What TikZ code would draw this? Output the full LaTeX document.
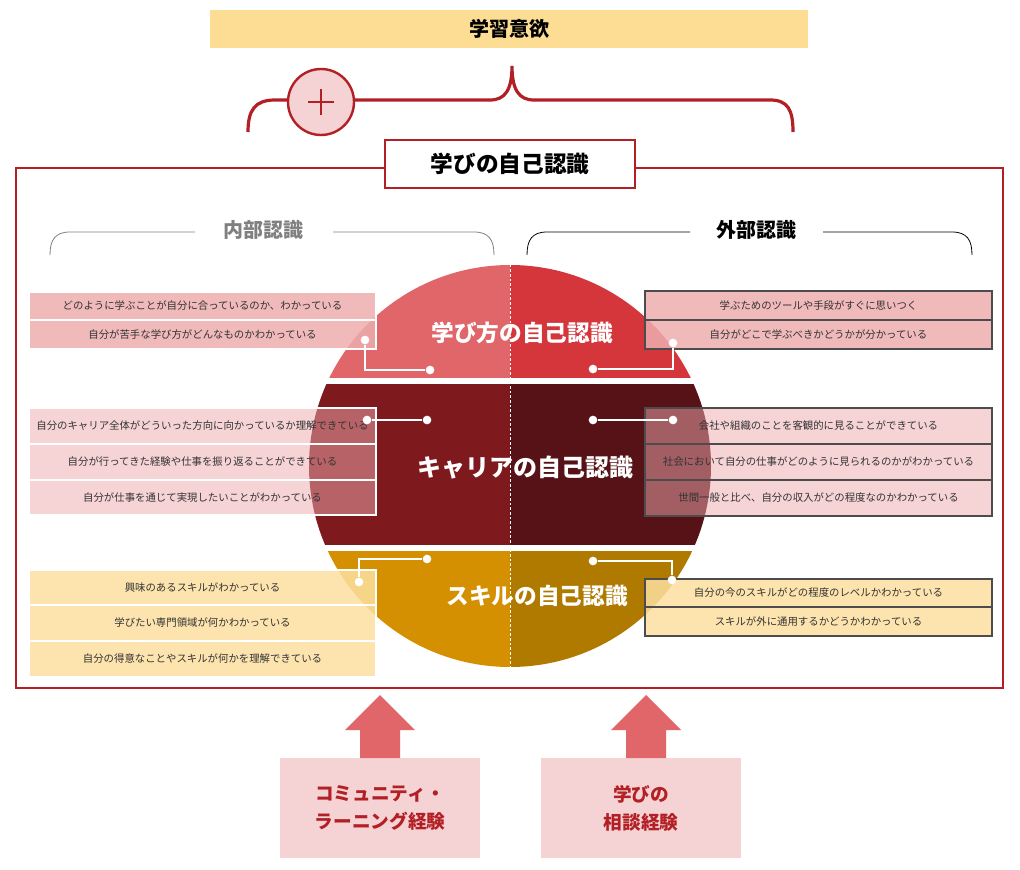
\documentclass[tikz,border=0pt]{standalone}
\usepackage{fontspec}
\setmainfont{Noto Sans CJK JP}
\usetikzlibrary{calc}
\definecolor{dred}{HTML}{B22025}
\definecolor{ylw}{HTML}{FDDC93}
\definecolor{tl}{HTML}{E0666A}
\definecolor{tr}{HTML}{D4363C}
\definecolor{ml}{HTML}{7E1A1E}
\definecolor{mr}{HTML}{561217}
\definecolor{bl}{HTML}{D49000}
\definecolor{br}{HTML}{B07A00}
\definecolor{pink}{HTML}{EEADAE}
\definecolor{lpink}{HTML}{EFABAF}
\definecolor{lylw}{HTML}{FDE0A0}
\definecolor{bpink}{HTML}{F5D3D5}
\tikzset{
 x=0.75pt,y=-0.75pt,
 lbox/.style={draw=white,line width=0.8pt,fill opacity=0.85,text opacity=1,minimum width=347*0.75pt,inner sep=0pt,font=\fontsize{7.8}{9}\selectfont,text=black!80},
 rbox/.style={draw=black!70,line width=0.8pt,fill opacity=0.85,text opacity=1,minimum width=347*0.75pt,inner sep=0pt,font=\fontsize{7.8}{9}\selectfont,text=black!80},
 mid/.style={fill=lpink,fill opacity=0.5},
 dot/.style={circle,fill=white,inner sep=0pt,minimum size=6.5pt},
 conn/.style={white,line width=1pt},
 ctitle/.style={text=white,font=\bfseries\fontsize{17}{20}\selectfont},
 hdr/.style={font=\bfseries\fontsize{15}{18}\selectfont},
 upar/.style={fill=tl,draw=none},
 bbox/.style={fill=bpink,minimum width=150pt,minimum height=75pt,align=center,text=dred,font=\bfseries\fontsize{14}{21}\selectfont},
}
\begin{document}
\begin{tikzpicture}
\useasboundingbox (0,0) rectangle (1020,870);
\fill[white] (0,0) rectangle (1020,870);
% top
\node[fill=ylw,minimum width=598*0.75pt,minimum height=38*0.75pt,font=\bfseries\fontsize{15}{18}\selectfont] (goal) at (509,29) {学習意欲};
\draw[dred,line width=2.4pt] (248,132) .. controls (248,110) and (255,100) .. (275,100) -- (490,100) .. controls (505,100) and (512,90) .. (512,66) .. controls (512,90) and (519,100) .. (534,100) -- (770,100) .. controls (788,100) and (793,110) .. (793,132);
\node[circle,draw=dred,line width=1.8pt,fill=bpink,minimum size=66*0.75pt,inner sep=0pt] (plus) at (321,102) {};
\draw[dred,line width=2pt] ($(plus.center)+(-13,0)$) -- ($(plus.center)+(13,0)$);
\draw[dred,line width=2pt] ($(plus.center)+(0,-13)$) -- ($(plus.center)+(0,13)$);
% frame
\draw[dred,line width=2.2pt] (16,168) rectangle (1003,688);
\node[draw=dred,line width=2.2pt,fill=white,minimum width=250*0.75pt,minimum height=48*0.75pt,font=\bfseries\fontsize{17}{20}\selectfont] (title) at (510,164) {学びの自己認識};
% headers
\draw[black!50,line width=0.6pt] (50,255) .. controls (50,240) and (55,232) .. (70,232) -- (195,232);
\draw[black!50,line width=0.6pt] (333,232) -- (474,232) .. controls (489,232) and (494,240) .. (494,255);
\node[hdr,text=black!50] (inner) at (263,230) {内部認識};
\draw[black,line width=0.6pt] (527,255) .. controls (527,240) and (532,232) .. (547,232) -- (690,232);
\draw[black,line width=0.6pt] (823,232) -- (952,232) .. controls (967,232) and (972,240) .. (972,255);
\node[hdr] (outer) at (756,230) {外部認識};
% circle
\begin{scope}
\clip (510,466) circle (201);
\fill[tl] (300,260) rectangle (510,378);
\fill[tr] (510,260) rectangle (720,378);
\fill[ml] (300,384) rectangle (510,545);
\fill[mr] (510,384) rectangle (720,545);
\fill[bl] (300,551) rectangle (510,680);
\fill[br] (510,551) rectangle (720,680);
\draw[white,line width=0.6pt,dash pattern=on 2pt off 1.5pt] (510,260) -- (510,680);
\end{scope}
% left boxes
\node[lbox,fill=pink,minimum height=28*0.75pt] (l1) at (202.5,306) {どのように学ぶことが自分に合っているのか、わかっている};
\node[lbox,fill=pink,minimum height=29*0.75pt] (l2) at (202.5,334.5) {自分が苦手な学び方がどんなものかわかっている};
\node[lbox,mid,minimum height=36*0.75pt] (l3) at (202.5,426) {自分のキャリア全体がどういった方向に向かっているか理解できている};
\node[lbox,mid,minimum height=36*0.75pt] (l4) at (202.5,462) {自分が行ってきた経験や仕事を振り返ることができている};
\node[lbox,mid,minimum height=35*0.75pt] (l5) at (202.5,497.5) {自分が仕事を通じて実現したいことがわかっている};
\node[lbox,fill=lylw,minimum height=35*0.75pt] (l6) at (202.5,587.5) {興味のあるスキルがわかっている};
\node[lbox,fill=lylw,minimum height=36*0.75pt] (l7) at (202.5,623) {学びたい専門領域が何かわかっている};
\node[lbox,fill=lylw,minimum height=36*0.75pt] (l8) at (202.5,659) {自分の得意なことやスキルが何かを理解できている};
% right boxes
\node[rbox,fill=pink,minimum height=29*0.75pt] (r1) at (818.5,305.5) {学ぶためのツールや手段がすぐに思いつく};
\node[rbox,fill=pink,minimum height=29*0.75pt] (r2) at (818.5,334.5) {自分がどこで学ぶべきかどうかが分かっている};
\node[rbox,mid,minimum height=36*0.75pt] (r3) at (818.5,426) {会社や組織のことを客観的に見ることができている};
\node[rbox,mid,minimum height=36*0.75pt] (r4) at (818.5,462) {社会において自分の仕事がどのように見られるのかがわかっている};
\node[rbox,mid,minimum height=36*0.75pt] (r5) at (818.5,498) {世間一般と比べ、自分の収入がどの程度なのかわかっている};
\node[rbox,fill=lylw,minimum height=28*0.75pt] (r6) at (818.5,593) {自分の今のスキルがどの程度のレベルかわかっている};
\node[rbox,fill=lylw,minimum height=29*0.75pt] (r7) at (818.5,621.5) {スキルが外に通用するかどうかわかっている};
% circle titles
\node[ctitle] (t1) at (522,333) {学び方の自己認識};
\node[ctitle,font=\bfseries\fontsize{18}{20}\selectfont] (t2) at (525,468) {キャリアの自己認識};
\node[ctitle] (t3) at (537,596) {スキルの自己認識};
% connectors
\node[dot] (a1) at (365,340) {}; \node[dot] (a2) at (430,370) {};
\draw[conn] (a1) |- (a2);
\node[dot] (b1) at (367,420) {}; \node[dot] (b2) at (427,420) {};
\draw[conn] (b1) -- (b2);
\node[dot] (c1) at (359,582) {}; \node[dot] (c2) at (427,559) {};
\draw[conn] (c1) |- (c2);
\node[dot] (d1) at (673,343) {}; \node[dot] (d2) at (593,369) {};
\draw[conn] (d1) |- (d2);
\node[dot] (e1) at (593,420) {}; \node[dot] (e2) at (673,420) {};
\draw[conn] (e1) -- (e2);
\node[dot] (f1) at (593,561) {}; \node[dot] (f2) at (672,580) {};
\draw[conn] (f1) -| (f2);
% bottom
\node[bbox] (k1) at (380,808) {コミュニティ・\\ラーニング経験};
\node[bbox] (k2) at (641,808) {学びの\\相談経験};
\fill[upar] (360,758) -- (360,730) -- (345,730) -- (380,695) -- (415,730) -- (400,730) -- (400,758) -- cycle;
\fill[upar] (626,758) -- (626,730) -- (611,730) -- (646,695) -- (681,730) -- (666,730) -- (666,758) -- cycle;
\end{tikzpicture}
\end{document}
